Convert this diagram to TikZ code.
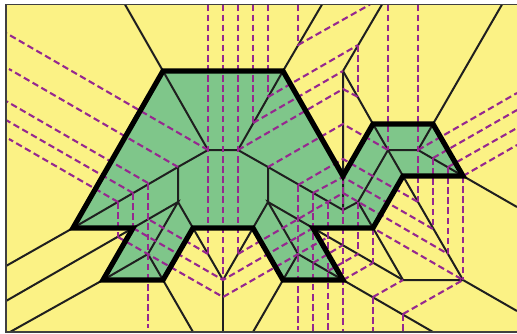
\documentclass[tikz,border=0pt]{standalone}
\usepackage{xcolor}
\usepackage{tikz}
\definecolor{paper}{HTML}{FBF285}
\definecolor{molecule}{HTML}{7FC68A}
\definecolor{rayline}{HTML}{96288F}

\begin{document}
\begin{tikzpicture}[
    x=1pt, y=-1pt,
    frameline/.style={draw=black!75, line width=1.6pt},
    crease/.style={draw=black!88, line width=2pt},
    rayline/.style={draw=rayline, line width=2.1pt, dash pattern=on 6.5pt off 3.6pt},
    outline/.style={draw=black, line width=5.2pt, line join=miter}
  ]
    \useasboundingbox (0,0) rectangle (517,333);
    \fill[white] (0,0) rectangle (517,333);
    \fill[paper] (6,4.5) rectangle (518,332);

    % the polygon
    \fill[molecule] (163,71) -- (283,71) -- (343,176) -- (373,124) -- (433,124) -- (463,176) -- (403,176) -- (373,228)
      -- (313,228) -- (343,280) -- (283,280) -- (253,228) -- (193,228) -- (163,280) -- (103,280) -- (133,228) -- (73,228) -- cycle;

    \begin{scope}
      \clip (6,4.5) rectangle (518,332);
      % creases
      \draw[crease] (125,4.5) -- (163,71) -- (208,150) -- (238,150) -- (283,71) -- (322,4.5);
      \draw[crease] (208,150) -- (178,167) -- (178,202) -- (193,228) -- (223,280) -- (253,228) -- (268,202) -- (268,167) -- (238,150);
      \draw[crease] (6,266) -- (73,228) -- (178,167);
      \draw[crease] (6,301) -- (133,228) -- (178,202) -- (148,254) -- (103,280) -- (10,332);
      \draw[crease] (148,254) -- (163,280) -- (193,332);
      \draw[crease] (223,280) -- (223,332);
      \draw[crease] (253,332) -- (283,280) -- (298,254) -- (268,202) -- (313,228) -- (403,280) -- (463,280) -- (517,311);
      \draw[crease] (298,254) -- (343,280) -- (433,332);
      \draw[crease] (268,167) -- (343,210) -- (358,202) -- (388,150) -- (403,176) -- (463,280);
      \draw[crease] (358,202) -- (373,228) -- (403,280);
      \draw[crease] (382,4.5) -- (343,71) -- (343,210);
      \draw[crease] (343,71) -- (373,124) -- (388,150) -- (418,150) -- (433,124) -- (502,4.5);
      \draw[crease] (418,150) -- (463,176) -- (517,207);

      % vertical rays
      \foreach \xa/\ya/\yb in {208/4.5/254, 223/4.5/280, 238/4.5/254, 253/4.5/123, 268/4.5/97, 298/4.5/45,
          388/4.5/150, 418/4.5/202, 358/45/97, 118/202/237, 133/193/228, 148/183/328, 298/185/330,
          313/193/332, 328/202/332, 343/177/332, 358/202/254, 373/228/263, 373/297/332, 403/314/332,
          433/158/228, 448/167/254, 463/176/280}
        \draw[rayline] (\xa,\ya) -- (\xa,\yb);

      % rays at 30 degrees, going up and to the left
      \draw[rayline] (208,150) -- (6,33);
      \draw[rayline] (178,167) -- (9,69);
      \draw[rayline] (148,183) -- (6,101);
      \draw[rayline] (133,193) -- (6,120);
      \draw[rayline] (118,202) -- (9,139);

      % rays at 30 degrees, going up and to the right
      \draw[rayline] (298,45) -- (370,4.5);
      \draw[rayline] (268,97) -- (358,45);
      \draw[rayline] (253,123) -- (343,71);
      \draw[rayline] (238,150) -- (343,89) -- (358,97);
      \draw[rayline] (268,167) -- (343,124) -- (388,150);
      \draw[rayline] (298,185) -- (343,159) -- (418,202);
      \draw[rayline] (313,193) -- (343,177) -- (433,229);
      \draw[rayline] (238,254) -- (343,193) -- (448,254);
      \draw[rayline] (208,254) -- (148,219);
      \draw[rayline] (133,228) -- (223,280) -- (313,228);
      \draw[rayline] (118,237) -- (223,297) -- (328,237);
      \draw[rayline] (313,263) -- (343,245);
      \draw[rayline] (328,271) -- (358,254);
      \draw[rayline] (343,280) -- (373,263);
      \draw[rayline] (373,297) -- (403,280);
      \draw[rayline] (403,314) -- (463,280) -- (373,228);
      \draw[rayline] (418,150) -- (517,93);
      \draw[rayline] (433,158) -- (517,110);
      \draw[rayline] (448,167) -- (517,128);
      \draw[rayline] (463,176) -- (517,145);
    \end{scope}

    \draw[outline] (163,71) -- (283,71) -- (343,176) -- (373,124) -- (433,124) -- (463,176) -- (403,176) -- (373,228)
      -- (313,228) -- (343,280) -- (283,280) -- (253,228) -- (193,228) -- (163,280) -- (103,280) -- (133,228) -- (73,228) -- cycle;
    \draw[frameline] (6,4.5) rectangle (518,332);
  \end{tikzpicture}
\end{document}
